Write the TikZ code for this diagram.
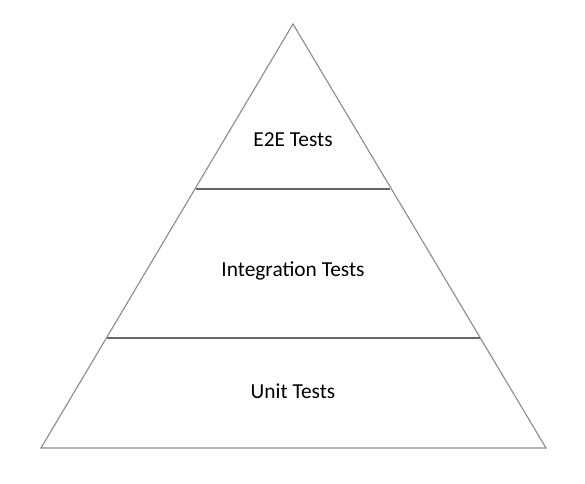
\documentclass[tikz,border=0pt]{standalone}
\usepackage{fontspec}
\setmainfont{Carlito}
\usepackage{tikz}
\usetikzlibrary{positioning}

\tikzset{
    edge/.style={draw=black!45, line width=0.8pt},
    divider/.style={draw=black!60, line width=1.6pt},
    label/.style={font=\fontsize{15.2}{17}\selectfont, text=black}
}

\begin{document}
\begin{tikzpicture}[x=0.025cm, y=-0.025cm]
            \useasboundingbox (0, 0) rectangle (585, 484);

            \coordinate (apex) at (293, 24);
            \coordinate (bl) at (41, 448);
            \coordinate (br) at (546, 448);
            \coordinate (ul) at (196, 189);
            \coordinate (ur) at (390, 189);
            \coordinate (ll) at (106.5, 338);
            \coordinate (lr) at (479.5, 338);

            \node[label] (e2e) at (293, 140) {E2E Tests};
            \node[label] (integ) at (293, 271) {Integration Tests};
            \node[label] (unit) at (293, 391) {Unit Tests};

            \draw[edge, line join=miter] (bl) -- (apex) -- (br) -- cycle;
            \draw[divider] (ul) -- (ur);
            \draw[divider] (ll) -- (lr);
        \end{tikzpicture}
\end{document}
